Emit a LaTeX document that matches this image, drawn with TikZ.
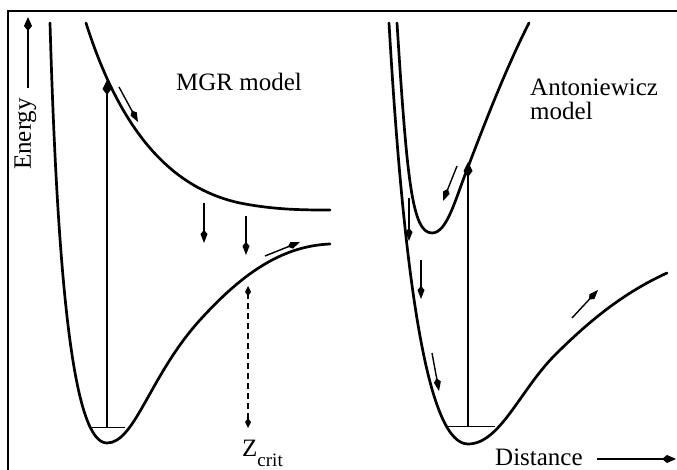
\documentclass[tikz,border=0pt]{standalone}
\usepackage{fontspec}
\setmainfont{Liberation Serif}
\usetikzlibrary{arrows.meta}

\begin{document}
\begin{tikzpicture}[
  x=1pt, y=-1pt,
  curve/.style={line width=2.7pt, line join=round, line cap=round},
  level/.style={line width=0.9pt},
  excite/.style={line width=1.1pt, -{Kite[length=15pt,width=9pt,inset=6pt]}},
  move/.style={line width=1.4pt, -{Kite[length=13pt,width=7pt,inset=4pt]}},
  axisarrow/.style={line width=1.4pt, -{Kite[length=14pt,width=8pt,inset=5pt]}},
  crit/.style={line width=1.4pt, dashed, dash pattern=on 6pt off 4pt,
    {Kite[length=10pt,width=6pt,inset=4pt]}-{Kite[length=10pt,width=6pt,inset=4pt]}},
  label/.style={font=\fontsize{25}{22}\selectfont, inner sep=0pt}
]
\useasboundingbox (0,0) rectangle (677,470);

% frame
\draw[line width=1.3pt] (8,470) -- (8,11) -- (677,11);

% axes
\node[label, rotate=90] (energy) at (25.5,134) {Energy};
\coordinate (eBot) at (28,88);
\coordinate (eTop) at (28,17);
\draw[axisarrow] (eBot) -- (eTop);
\node[label, anchor=base west] (distance) at (495,465) {Distance};
\coordinate (dStart) at (597,459);
\coordinate (dEnd) at (676,459);
\draw[axisarrow] (dStart) -- (dEnd);

% MGR model
\node[label] (mgr) at (239,82) {MGR model};
\draw[curve] (50,23) .. controls (58,300) and (75,443) .. (107,443)
  .. controls (135,443) and (150,375) .. (200,320)
  .. controls (240,276) and (280,246) .. (330,244);
\draw[curve] (86,23) .. controls (120,130) and (170,188) .. (240,203)
  .. controls (275,210) and (305,210) .. (330,210);
\coordinate (mLevL) at (92,427);
\coordinate (mLevR) at (125,427);
\draw[level] (mLevL) -- (mLevR);
\coordinate (mBase) at (107,427);
\coordinate (mTop) at (107,80);
\draw[excite] (mBase) -- (mTop);
\coordinate (m1a) at (119,87);  \coordinate (m1b) at (138,122);
\coordinate (m2a) at (204,203); \coordinate (m2b) at (204,243);
\coordinate (m3a) at (246,216); \coordinate (m3b) at (246,255);
\coordinate (m4a) at (265,256); \coordinate (m4b) at (300,242);
\draw[move] (m1a) -- (m1b);
\draw[move] (m2a) -- (m2b);
\draw[move] (m3a) -- (m3b);
\draw[move] (m4a) -- (m4b);
\coordinate (zTop) at (248,286);
\coordinate (zBot) at (248,428);
\draw[crit] (zBot) -- (zTop);
\node[label, anchor=base west] (zcrit) at (242,456)
  {Z\raisebox{-10pt}{\fontsize{19}{20}\selectfont crit}};

% Antoniewicz model
\node[label, anchor=base west] (anto) at (530,96) {Antoniewicz};
\node[label, anchor=base west] (antomodel) at (530,120) {model};
\draw[curve] (389,23) .. controls (405,300) and (430,444) .. (468,444)
  .. controls (500,444) and (520,390) .. (555,355)
  .. controls (590,320) and (625,292) .. (667,273);
\draw[curve] (397,23) .. controls (407,180) and (412,233) .. (432,233)
  .. controls (447,233) and (455,200) .. (468,167)
  .. controls (483,128) and (505,70) .. (529,23);
\coordinate (aLevL) at (447,426);
\coordinate (aLevR) at (495,426);
\draw[level] (aLevL) -- (aLevR);
\coordinate (aBase) at (468,426);
\coordinate (aTop) at (468,162);
\draw[excite] (aBase) -- (aTop);
\coordinate (a1a) at (457,166); \coordinate (a1b) at (443,201);
\coordinate (a2a) at (409,198); \coordinate (a2b) at (409,241);
\coordinate (a3a) at (421,260); \coordinate (a3b) at (421,299);
\coordinate (a4a) at (432,353); \coordinate (a4b) at (439,391);
\coordinate (a5a) at (572,318); \coordinate (a5b) at (598,290);
\draw[move] (a1a) -- (a1b);
\draw[move] (a2a) -- (a2b);
\draw[move] (a3a) -- (a3b);
\draw[move] (a4a) -- (a4b);
\draw[move] (a5a) -- (a5b);
\end{tikzpicture}
\end{document}
